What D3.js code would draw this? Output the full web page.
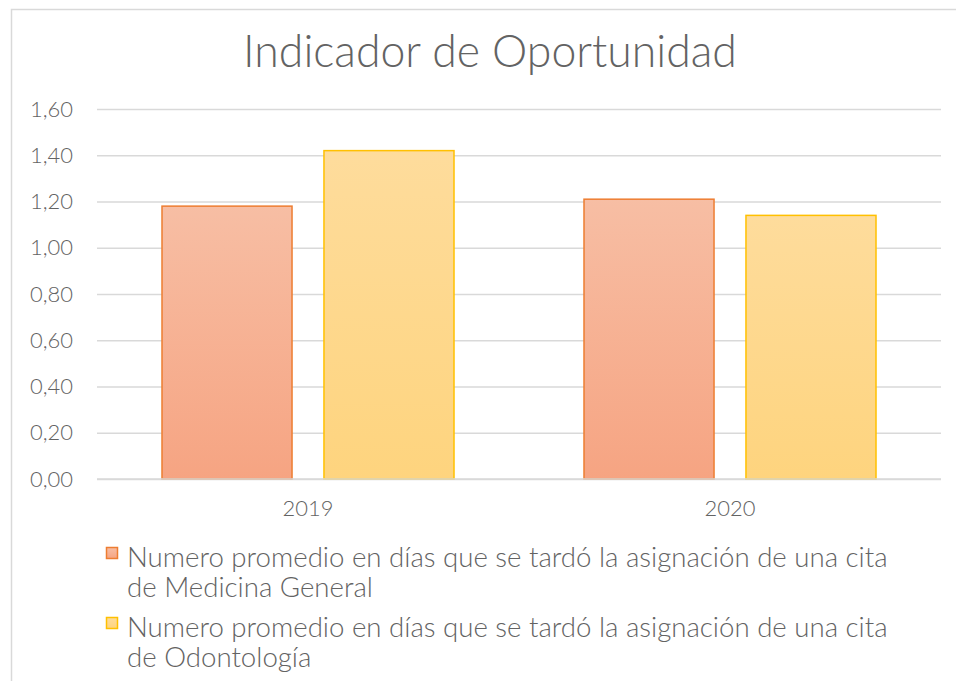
<!DOCTYPE html>
<html><head><meta charset="utf-8">
<script src="https://cdn.jsdelivr.net/npm/d3@7"></script>
<style>body{margin:0;background:#fff}svg{display:block}text{font-family:"Lato","Open Sans",sans-serif;font-weight:300}</style>
</head><body><svg id="c" width="956" height="681"></svg>
<script>
const categories = ["2019", "2020"];
const seriesNames = [
  ["Numero promedio en días que se tardó la asignación de una cita", "de Medicina General"],
  ["Numero promedio en días que se tardó la asignación de una cita", "de Odontología"]
];
const medicinaGeneral = [1.18, 1.21];
const odontologia = [1.42, 1.14];
const yTicks = [0, 0.2, 0.4, 0.6, 0.8, 1.0, 1.2, 1.4, 1.6];
const title = "Indicador de Oportunidad";

const series = [medicinaGeneral, odontologia];
const colors = [
  {stroke:"#ED7D31", top:"#F7BEA4", bottom:"#F6A482"},
  {stroke:"#FFC000", top:"#FEDC9C", bottom:"#FED47E"}
];
const textColor = "#636363";

const svg = d3.select("#c");
svg.append("rect").attr("x",11.5).attr("y",9.5).attr("width",960).attr("height",700)
  .attr("fill","#fff").attr("stroke","#d9d9d9").attr("stroke-width",1.5);

const defs = svg.append("defs");
colors.forEach((c,i)=>{
  const g = defs.append("linearGradient").attr("id","g"+i).attr("x1",0).attr("y1",0).attr("x2",0).attr("y2",1);
  g.append("stop").attr("offset","0%").attr("stop-color",c.top);
  g.append("stop").attr("offset","100%").attr("stop-color",c.bottom);
});

const pLeft=97, pRight=941, pTop=109, pBottom=479;
const y = d3.scaleLinear().domain([0,1.6]).range([pBottom,pTop]);
const x0 = d3.scaleBand().domain(categories).range([pLeft,pRight]).padding(0);
const inner = 64.5;
const x1 = d3.scaleBand().domain([0,1]).range([inner, x0.bandwidth()-inner]).paddingInner(0.191).paddingOuter(0);

// title
const t = svg.append("text").attr("x",490).attr("y",67).attr("text-anchor","middle")
  .attr("fill",textColor).attr("font-size",36).text(title);
const tw = t.node().getComputedTextLength();
t.attr("font-size",36*494/tw);

// grid
const yAxis = d3.axisLeft(y).tickValues(yTicks).tickSize(-(pRight-pLeft)).tickPadding(24)
  .tickFormat(d=>d3.format(".2f")(d).replace(".",","));
const ga = svg.append("g").attr("transform",`translate(${pLeft},0)`).call(yAxis);
ga.select(".domain").remove();
ga.selectAll(".tick line").attr("stroke","#d9d9d9").attr("stroke-width",1.5);
ga.selectAll(".tick text").attr("fill",textColor).attr("font-size",20);
// scale digit width to match reference ("1,60" ~43px)
const lw = ga.select(".tick:last-of-type text").node().getComputedTextLength();
const axFs = Math.min(22, 20*43/lw);
ga.selectAll(".tick text").attr("font-size",axFs);

// bars
series.forEach((vals,si)=>{
  svg.append("g").selectAll("rect").data(vals).join("rect")
    .attr("x",(d,i)=>x0(categories[i])+x1(si)+0.5)
    .attr("width",x1.bandwidth()-1)
    .attr("y",d=>y(d))
    .attr("height",d=>y(0)-y(d))
    .attr("fill",`url(#g${si})`)
    .attr("stroke",colors[si].stroke).attr("stroke-width",1.5);
});
svg.append("line").attr("x1",pLeft).attr("x2",pRight).attr("y1",y(0)).attr("y2",y(0))
  .attr("stroke","#d9d9d9").attr("stroke-width",1.5);

// x labels
const xAxis = d3.axisBottom(x0).tickSize(0).tickPadding(21);
const gx = svg.append("g").attr("transform",`translate(0,${pBottom})`).call(xAxis);
gx.select(".domain").remove();
gx.selectAll(".tick text").attr("fill",textColor).attr("font-size",axFs);

// legend
const legY = [547, 617];
seriesNames.forEach((lines,i)=>{
  const g = svg.append("g");
  g.append("rect").attr("x",106.5).attr("y",legY[i]+0.5).attr("width",11).attr("height",11)
    .attr("fill",`url(#g${i})`).attr("stroke",colors[i].stroke).attr("stroke-width",1.5);
  let fs = 22;
  lines.forEach((ln,j)=>{
    const tx = g.append("text").attr("x",127).attr("y",legY[i]+20+j*30)
      .attr("fill",textColor).attr("font-size",fs).text(ln);
    if(j===0){
      const w = tx.node().getComputedTextLength();
      fs = 22*(888-127)/w;
      tx.attr("font-size",fs);
    }
  });
});
</script></body></html>
